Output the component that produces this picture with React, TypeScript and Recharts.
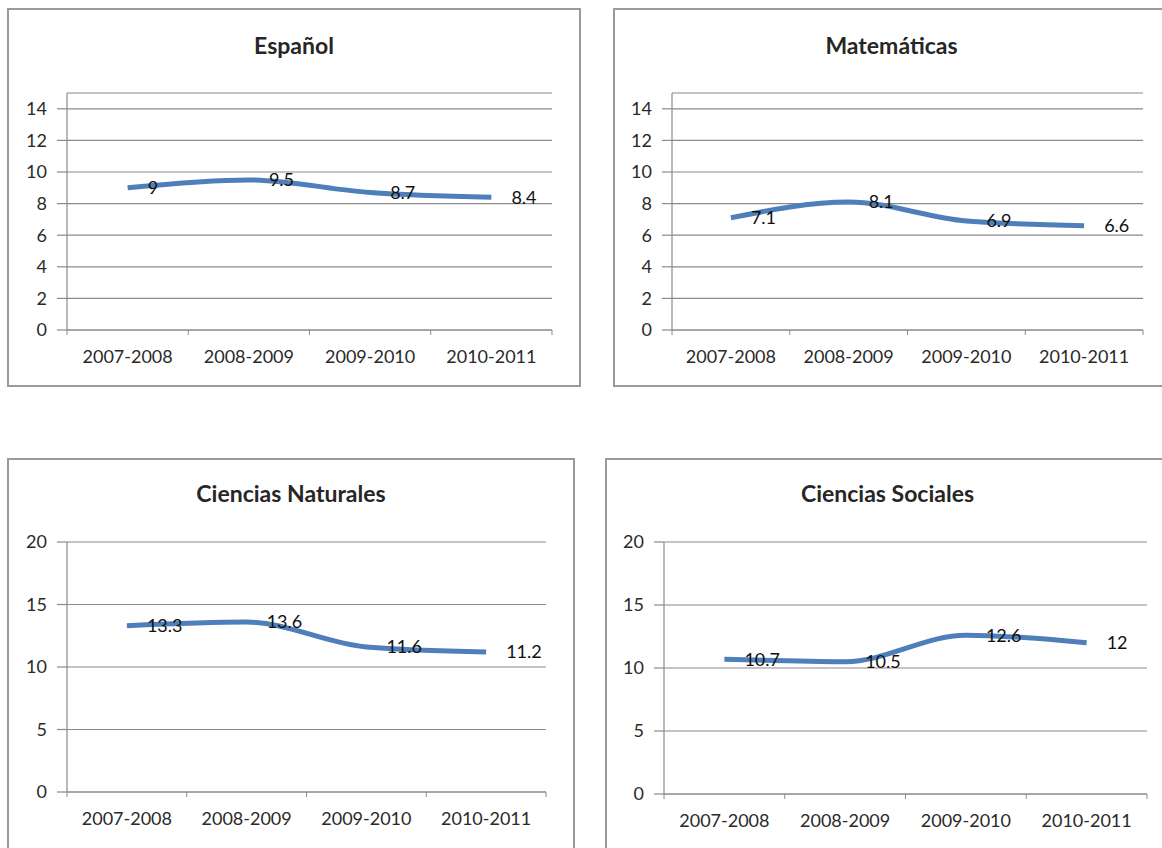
import React from 'react';
import { LineChart, Line, XAxis, YAxis, CartesianGrid, LabelList } from 'recharts';

// school years on the category axis
const categories = ['2007-2008', '2008-2009', '2009-2010', '2010-2011'];

// one series per subject
const espanol = [9, 9.5, 8.7, 8.4];
const matematicas = [7.1, 8.1, 6.9, 6.6];
const cienciasNaturales = [13.3, 13.6, 11.6, 11.2];
const cienciasSociales = [10.7, 10.5, 12.6, 12];

// value axis ticks
const ticksUpTo14 = [0, 2, 4, 6, 8, 10, 12, 14];
const ticksUpTo20 = [0, 5, 10, 15, 20];

const FONT = 'Lato, "Open Sans", sans-serif';
const LINE_COLOR = '#4F7FBA';
const GRID_COLOR = '#8a8a8a';
const X_TICK_SIZE = 5;
const X_TICK_MARGIN = 15;
const Y_AXIS_W = 55;
const X_AXIS_H = 45;

interface Box { x: number; y: number; w: number; h: number }
interface Plot { left: number; right: number; top: number; bottom: number }

interface PanelProps {
  title: string;
  values: number[];
  ticks: number[];
  max: number;
  box: Box;
  plot: Plot;
  titleY: number;
}

// category label at the band centre, Excel-style tick marks on the band edges
function CategoryTick(props: any) {
  const { x, y, payload, index, visibleTicksCount, width } = props;
  const half = payload && payload.offset ? payload.offset : width / visibleTicksCount / 2;
  const axisY = y - X_TICK_SIZE - X_TICK_MARGIN;
  return (
    <g>
      <line x1={x - half} x2={x - half} y1={axisY} y2={axisY + X_TICK_SIZE} stroke={GRID_COLOR} />
      {index === visibleTicksCount - 1 && (
        <line x1={x + half} x2={x + half} y1={axisY} y2={axisY + X_TICK_SIZE} stroke={GRID_COLOR} />
      )}
      <text x={x} y={y} dy="0.71em" textAnchor="middle" fill="#2a2a2a" fontSize={18} fontFamily={FONT}>
        {payload.value}
      </text>
    </g>
  );
}

function Panel({ title, values, ticks, max, box, plot, titleY }: PanelProps) {
  const data = categories.map((c, i) => ({ year: c, value: values[i] }));
  const margin = {
    top: plot.top - box.y,
    right: box.x + box.w - plot.right,
    bottom: box.y + box.h - plot.bottom - X_AXIS_H,
    left: plot.left - box.x - Y_AXIS_W,
  };

  return (
    <>
      <div
        style={{
          position: 'absolute',
          left: box.x,
          top: box.y,
          width: box.w,
          height: box.h,
          border: '2px solid #9a9a9a',
          boxSizing: 'border-box',
        }}
      />
      <div
        style={{
          position: 'absolute',
          left: box.x,
          top: titleY - 12,
          width: box.w,
          height: 24,
          lineHeight: '24px',
          textAlign: 'center',
          fontFamily: FONT,
          fontWeight: 700,
          fontSize: 23,
          color: '#262626',
        }}
      >
        {title}
      </div>
      <div style={{ position: 'absolute', left: box.x, top: box.y }}>
        <LineChart width={box.w} height={box.h} data={data} margin={margin}>
          <CartesianGrid vertical={false} stroke={GRID_COLOR} strokeWidth={1.2} />
          <XAxis
            dataKey="year"
            scale="band"
            height={X_AXIS_H}
            interval={0}
            axisLine={{ stroke: GRID_COLOR, strokeWidth: 1.2 }}
            tickLine={false}
            tickSize={X_TICK_SIZE}
            tickMargin={X_TICK_MARGIN}
            tick={<CategoryTick />}
          />
          <YAxis
            domain={[0, max]}
            ticks={ticks}
            width={Y_AXIS_W}
            interval={0}
            axisLine={{ stroke: GRID_COLOR, strokeWidth: 1.2 }}
            tickLine={{ stroke: GRID_COLOR, strokeWidth: 1.2 }}
            tickSize={10}
            tickMargin={10}
            tick={{ fill: '#2a2a2a', fontSize: 18, fontFamily: FONT }}
          />
          <Line
            type="monotone"
            dataKey="value"
            stroke={LINE_COLOR}
            strokeWidth={5}
            dot={false}
            isAnimationActive={false}
          >
            <LabelList dataKey="value" position="right" offset={20} fill="#111" fontSize={18} fontFamily={FONT} />
          </Line>
        </LineChart>
      </div>
    </>
  );
}

export default function App() {
  return (
    <div
      style={{
        position: 'absolute',
        left: 0,
        top: 0,
        width: 1162,
        height: 848,
        overflow: 'hidden',
        background: '#fff',
      }}
    >
      <Panel
        title="Español"
        values={espanol}
        ticks={ticksUpTo14}
        max={15}
        box={{ x: 7, y: 8, w: 574, h: 379 }}
        plot={{ left: 67, right: 552, top: 93, bottom: 330 }}
        titleY={45}
      />
      <Panel
        title="Matemáticas"
        values={matematicas}
        ticks={ticksUpTo14}
        max={15}
        box={{ x: 613, y: 8, w: 557, h: 379 }}
        plot={{ left: 672, right: 1143, top: 93, bottom: 330 }}
        titleY={45}
      />
      <Panel
        title="Ciencias Naturales"
        values={cienciasNaturales}
        ticks={ticksUpTo20}
        max={20}
        box={{ x: 7, y: 458, w: 568, h: 400 }}
        plot={{ left: 67, right: 546, top: 542, bottom: 792 }}
        titleY={493}
      />
      <Panel
        title="Ciencias Sociales"
        values={cienciasSociales}
        ticks={ticksUpTo20}
        max={20}
        box={{ x: 605, y: 458, w: 565, h: 400 }}
        plot={{ left: 664, right: 1147, top: 542, bottom: 794 }}
        titleY={493}
      />
    </div>
  );
}
